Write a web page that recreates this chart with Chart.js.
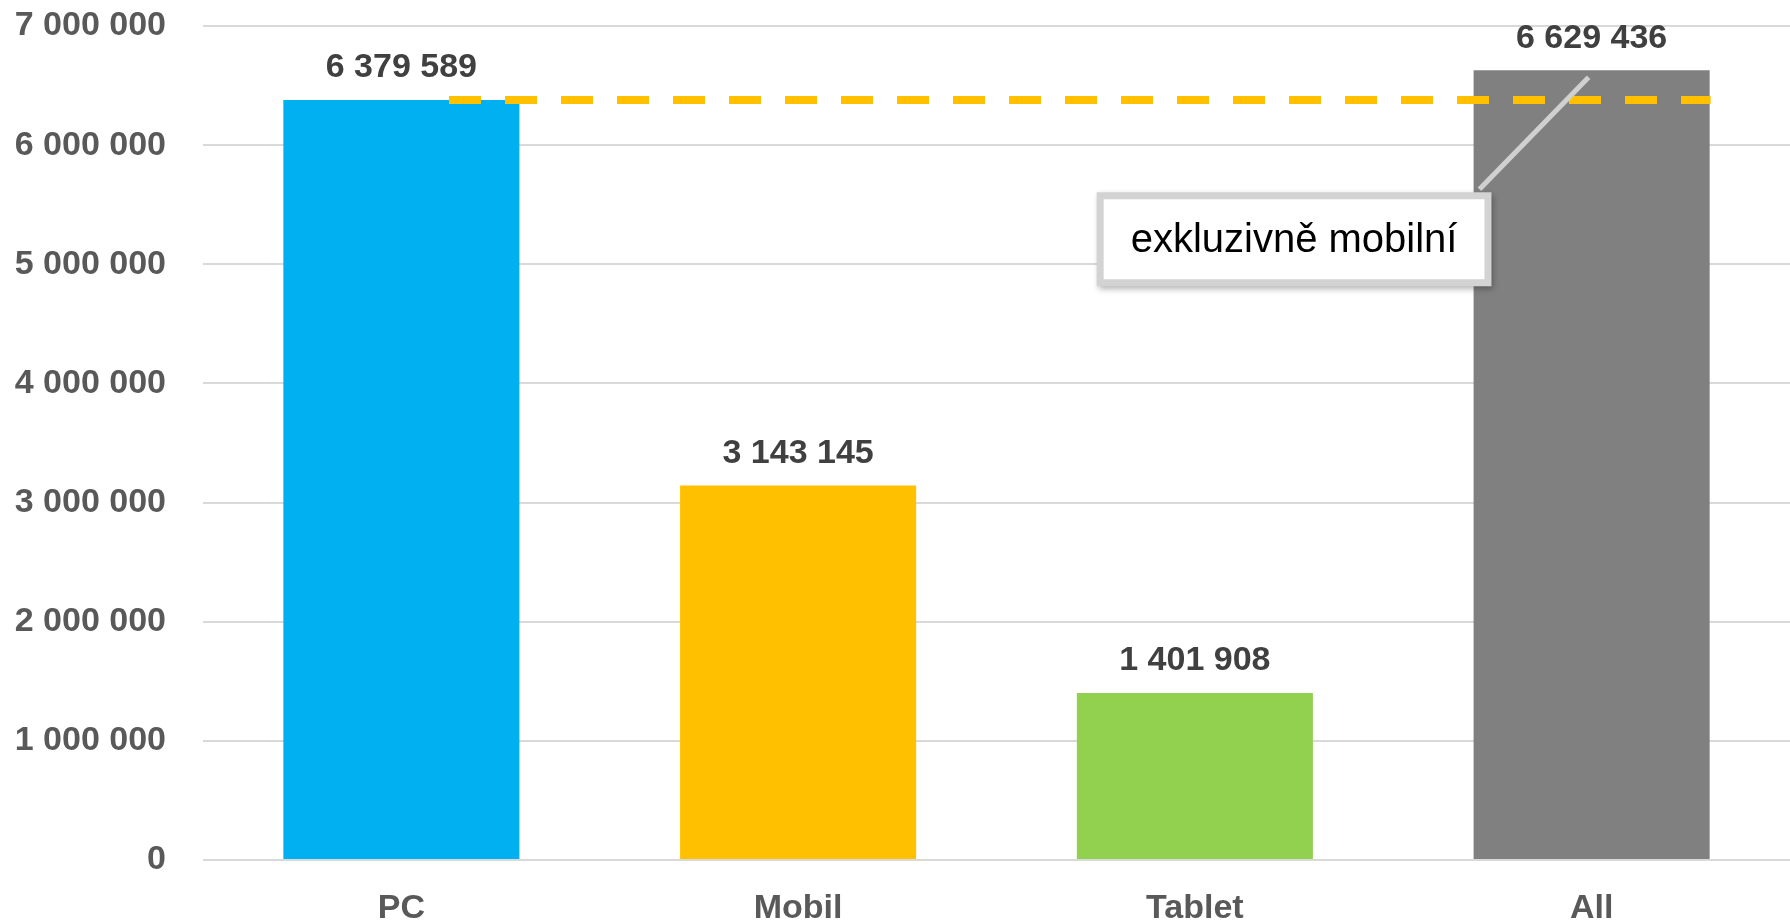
<!DOCTYPE html>
<html>
<head>
<meta charset="utf-8">
<script src="https://cdn.jsdelivr.net/npm/chart.js@4.4.0/dist/chart.umd.min.js"></script>
<style>
    html, body { margin: 0; padding: 0; background: #fff; }
</style>
</head>
<body>
<canvas id="deviceChart" width="1790" height="924"></canvas>
<script>
const categories = ['PC', 'Mobil', 'Tablet', 'All'];
const users = [6379589, 3143145, 1401908, 6629436];
const barColors = ['#00B0F0', '#FFC000', '#92D050', '#808080'];
const yMax = 7000000;
const yStep = 1000000;
const calloutText = 'exkluzivně mobilní';

const FONT = "'Liberation Sans', Arial, sans-serif";

// 6 379 589 style numbers
const fmt = (n) => String(n).replace(/\B(?=(\d{3})+(?!\d))/g, ' ');

// value labels above the bars
const barLabels = {
    id: 'barLabels',
    afterDatasetsDraw(chart) {
        const ctx = chart.ctx;
        const meta = chart.getDatasetMeta(0);
        ctx.save();
        ctx.font = 'bold 34px ' + FONT;
        ctx.fillStyle = '#404040';
        ctx.textAlign = 'center';
        ctx.textBaseline = 'middle';
        meta.data.forEach((bar, i) => {
            ctx.fillText(fmt(users[i]), bar.x, bar.y - 32);
        });
        ctx.restore();
    }
};

// dashed line at the PC level, running over to the All bar
const pcLine = {
    id: 'pcLine',
    afterDatasetsDraw(chart, args, opts) {
        const { ctx, scales: { x, y } } = chart;
        const yy = y.getPixelForValue(opts.value);
        ctx.save();
        ctx.strokeStyle = '#FFC000';
        ctx.lineWidth = 8;
        ctx.setLineDash([32, 24]);
        ctx.beginPath();
        ctx.moveTo(x.getPixelForValue(opts.from), yy);
        ctx.lineTo(x.getPixelForValue(opts.to), yy);
        ctx.stroke();
        ctx.restore();
    }
};

// callout box pointing at the top of the All bar
const callout = {
    id: 'callout',
    afterDraw(chart, args, opts) {
        const { ctx, scales: { x, y } } = chart;
        const meta = chart.getDatasetMeta(0);
        const target = meta.data[opts.target];
        ctx.save();
        ctx.font = '40px ' + FONT;
        const w = ctx.measureText(opts.text).width + 68;
        const h = 94;
        const cx = x.getPixelForValue(opts.atIndex);
        const cy = y.getPixelForValue(opts.atValue);
        const bx = cx - w / 2, by = cy - h / 2;

        // leader line
        ctx.strokeStyle = '#D0D0D0';
        ctx.lineWidth = 5;
        ctx.beginPath();
        ctx.moveTo(bx + w - 12, by - 3);
        ctx.lineTo(target.x - 3, target.y + 7);
        ctx.stroke();

        // box with shadow
        ctx.shadowColor = 'rgba(0,0,0,0.3)';
        ctx.shadowBlur = 6;
        ctx.shadowOffsetX = 2;
        ctx.shadowOffsetY = 3;
        ctx.fillStyle = '#D3D3D3';
        ctx.fillRect(bx, by, w, h);
        ctx.shadowColor = 'transparent';
        ctx.fillStyle = '#fff';
        ctx.fillRect(bx + 7, by + 7, w - 14, h - 14);

        ctx.fillStyle = '#000';
        ctx.textAlign = 'center';
        ctx.textBaseline = 'middle';
        ctx.fillText(opts.text, cx, cy + 2);
        ctx.restore();
    }
};

new Chart(document.getElementById('deviceChart'), {
    type: 'bar',
    data: {
        labels: categories,
        datasets: [{
            data: users,
            backgroundColor: barColors,
            borderWidth: 0,
            barPercentage: 0.595,
            categoryPercentage: 1
        }]
    },
    options: {
        responsive: false,
        animation: false,
        layout: { padding: { top: 26, right: 0, left: 0, bottom: 0 } },
        plugins: {
            legend: { display: false },
            tooltip: { enabled: false },
            pcLine: { value: users[0], from: 0.12, to: 3.3 },
            callout: { text: calloutText, target: 3, atIndex: 2.25, atValue: 5210000 }
        },
        scales: {
            x: {
                grid: { display: false, drawTicks: false },
                border: { display: false },
                ticks: {
                    color: '#595959',
                    padding: 28,
                    font: { family: FONT, size: 34, weight: 'bold' }
                },
                afterFit: (s) => { s.height = 64; s.paddingLeft = 0; s.paddingRight = 0; }
            },
            y: {
                min: 0,
                max: yMax,
                grid: { color: '#D9D9D9', lineWidth: 2, drawTicks: false },
                border: { display: false },
                ticks: {
                    stepSize: yStep,
                    color: '#595959',
                    padding: 37,
                    font: { family: FONT, size: 34, weight: 'bold' },
                    callback: (v) => fmt(v)
                },
                afterFit: (s) => { s.width = 203; s.paddingTop = 0; s.paddingBottom = 0; }
            }
        }
    },
    plugins: [barLabels, pcLine, callout]
});
</script>
</body>
</html>
